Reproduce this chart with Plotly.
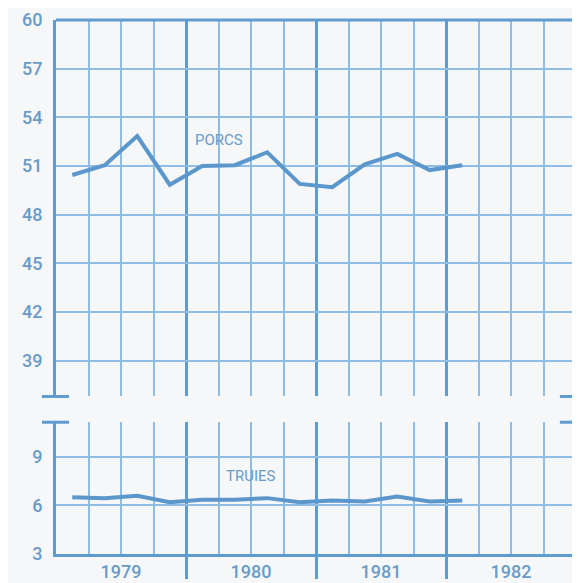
import plotly.graph_objects as go

# Data: quarterly values, points at mid-quarter (decimal years)
quarters = [1979.125, 1979.375, 1979.625, 1979.875,
            1980.125, 1980.375, 1980.625, 1980.875,
            1981.125, 1981.375, 1981.625, 1981.875,
            1982.125]
porcs = [50.45, 51.05, 52.85, 49.85, 51.0, 51.05, 51.85, 49.9, 49.7, 51.1, 51.75, 50.75, 51.05]
truies = [6.5, 6.45, 6.6, 6.2, 6.35, 6.35, 6.45, 6.2, 6.3, 6.25, 6.55, 6.25, 6.3]

year_labels = ["1979", "1980", "1981", "1982"]
year_centers = [1979.5, 1980.5, 1981.5, 1982.5]
year_bounds = [1980, 1981, 1982]

BG = "#f6f7f8"
GRID = "#8dbde4"
MAJOR = "#5e9bd0"
LINE = "#5b97cb"
TEXT = "#6a9bc6"
FONT = "Roboto"
TICKFONT = dict(family=FONT, size=18, color=TEXT, weight=500)

fig = go.Figure()
fig.add_trace(go.Scatter(x=quarters, y=porcs, mode="lines", xaxis="x", yaxis="y",
                         line=dict(color=LINE, width=4), showlegend=False, hoverinfo="skip"))
fig.add_trace(go.Scatter(x=quarters, y=truies, mode="lines", xaxis="x", yaxis="y2",
                         line=dict(color=LINE, width=4), showlegend=False, hoverinfo="skip"))
# empty trace so the label axis (x2) is drawn
fig.add_trace(go.Scatter(x=year_centers, y=[None] * len(year_centers), mode="lines",
                         xaxis="x2", yaxis="y2", showlegend=False, hoverinfo="skip"))

xr = [1979, 1983]
fig.update_layout(
    width=572, height=575,
    margin=dict(l=48, r=1, t=9, b=27),
    paper_bgcolor=BG, plot_bgcolor=BG,
    xaxis=dict(range=xr, anchor="y2", tickvals=year_bounds, showticklabels=False,
               ticks="outside", ticklen=22, tickwidth=3, tickcolor=MAJOR,
               showgrid=True, gridcolor=MAJOR, gridwidth=3,
               showline=True, linecolor=MAJOR, linewidth=3, zeroline=False,
               minor=dict(tick0=1979, dtick=0.25, showgrid=True, gridcolor=GRID, gridwidth=1.5)),
    xaxis2=dict(range=xr, overlaying="x", anchor="y2", side="bottom",
                tickvals=year_centers, ticktext=year_labels, ticks="",
                showgrid=False, showline=False, zeroline=False,
                ticklabelstandoff=5, ticklabeloverflow="allow",
                tickfont=TICKFONT),
    yaxis=dict(domain=[0.295, 1], range=[36.8, 60], tick0=0, dtick=3, ticks="",
               showgrid=True, gridcolor=GRID, gridwidth=1.5, zeroline=False,
               showline=True, mirror=True, linecolor=MAJOR, linewidth=3,
               ticklabelstandoff=7, ticklabeloverflow="allow",
               tickfont=TICKFONT),
    yaxis2=dict(domain=[0, 0.2468], range=[3, 11.14], tick0=0, dtick=3, ticks="",
                showgrid=True, gridcolor=GRID, gridwidth=1.5, zeroline=False,
                showline=True, mirror=True, linecolor=MAJOR, linewidth=3,
                ticklabelstandoff=7, ticklabeloverflow="allow",
                tickfont=TICKFONT),
    annotations=[
        dict(x=1980.254, y=52.6, xref="x", yref="y", text="PORCS", showarrow=False,
             font=dict(family="Roboto", size=15, color=TEXT)),
        dict(x=1980.5, y=7.84, xref="x", yref="y2", text="TRUIES", showarrow=False,
             font=dict(family="Roboto", size=15, color=TEXT)),
    ],
)

shapes = [dict(type="line", xref="paper", yref="paper", x0=0, x1=1, y0=1, y1=1,
               line=dict(color=MAJOR, width=3))]
for yb in [0.295, 0.2468]:
    shapes.append(dict(type="line", xref="paper", yref="paper", x0=-0.027, x1=0.025, y0=yb, y1=yb,
                       line=dict(color=MAJOR, width=3)))
    shapes.append(dict(type="line", xref="paper", yref="paper", x0=0.969, x1=1.0, y0=yb, y1=yb,
                       line=dict(color=MAJOR, width=3)))
fig.update_layout(shapes=shapes)

fig.write_html("out.html")
